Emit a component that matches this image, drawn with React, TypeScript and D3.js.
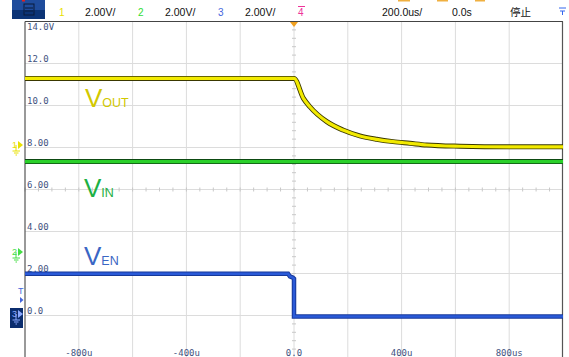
import { useMemo } from 'react'
import { scaleLinear, line, range, curveMonotoneX, curveLinear } from 'd3'

// time in us, volts
const voutTimes = [-1000, 0, 35, 59, 122, 182, 245, 307, 368, 431, 493, 617, 800, 1000]
const voutValues = [11.29, 11.29, 10.34, 9.94, 9.23, 8.83, 8.55, 8.39, 8.28, 8.2, 8.12, 8.06, 8.03, 8.03]
const vinTimes = [-1000, 1000]
const vinValues = [7.33, 7.33]
const venTimes = [-1000, -22, -15, -4, 0, 0, 1000]
const venValues = [1.99, 1.99, 1.86, 1.8, 1.75, -0.05, -0.05]

const yTickValues = [14, 12, 10, 8, 6, 4, 2, 0]
const yTickLabels = ['14.0V', '12.0', '10.0', '8.00', '6.00', '4.00', '2.00', '0.0']
const xTickValues = [-800, -400, 0, 400, 800]
const xTickLabels = ['-800u', '-400u', '0.0', '400u', '800us']

const W = 569
const H = 357
const mono = '"DejaVu Sans Mono", monospace'
const sans = '"Liberation Sans", Arial, sans-serif'

export default function App() {
  const x = useMemo(() => scaleLinear().domain([-1000, 1000]).range([25, 563]), [])
  const y = useMemo(() => scaleLinear().domain([-2, 14]).range([357.5, 21.5]), [])

  const path = (ts: number[], vs: number[], smooth = false) =>
    line<number>()
      .x((_, i) => x(ts[i]))
      .y((d) => y(d))
      .curve(smooth ? curveMonotoneX : curveLinear)(vs) ?? ''

  const vGrid = range(-800, 1000, 200)
  const hGrid = range(12, -2, -2)
  const xMinor = range(-1000, 1000, 50)
  const yMinor = range(-2, 14, 0.4)

  const marker = (cy: number, color: string, label: string) => (
    <g>
      <text x={12} y={cy + 3} fontSize={9} fontFamily={sans} fill={color}>{label}</text>
      <path d={`M18,${cy - 4}L23,${cy}L18,${cy + 4}Z`} fill={color} />
      <path d={`M16,${cy}V${cy + 6}M12.5,${cy + 6}H20M14,${cy + 8}H18.5M15.5,${cy + 10}H17`} stroke={color} strokeWidth={1} fill="none" />
    </g>
  )

  const vout = path(voutTimes, voutValues, true)
  const vin = path(vinTimes, vinValues)
  const ven = path(venTimes, venValues)

  return (
    <svg width={W} height={H} style={{ position: 'absolute', left: 0, top: 0, background: '#fff' }}>
      {/* header */}
      <rect x={12} y={0} width={33} height={10} fill="#1f4c9c" />
      <rect x={12} y={10} width={33} height={9} fill="#0c3476" />
      <rect x={24} y={4} width={10} height={11} fill="none" stroke="#0a1a3a" strokeWidth={1} />
      <path d="M25,8H33M25,11H33" stroke="#0a1a3a" strokeWidth={1} />
      <rect x={22} y={0} width={3} height={1.5} fill="#e02020" />
      <text x={59} y={16} fontSize={10} fontFamily={sans} fill="#e8e000">1</text>
      <text x={85} y={16} fontSize={10.5} fontFamily={sans} fill="#111">2.00V/</text>
      <text x={138} y={16} fontSize={10} fontFamily={sans} fill="#33dd33">2</text>
      <text x={165} y={16} fontSize={10.5} fontFamily={sans} fill="#111">2.00V/</text>
      <text x={218} y={16} fontSize={10} fontFamily={sans} fill="#4466dd">3</text>
      <text x={245} y={16} fontSize={10.5} fontFamily={sans} fill="#111">2.00V/</text>
      <text x={298} y={16} fontSize={10} fontFamily={sans} fill="#ee3399">4</text>
      <path d="M298,6.5H305" stroke="#ee3399" strokeWidth={1} />
      <text x={382} y={16} fontSize={10.5} fontFamily={sans} fill="#111">200.0us/</text>
      <text x={452} y={16} fontSize={10.5} fontFamily={sans} fill="#111">0.0s</text>
      <text x={510} y={16} fontSize={10.5} fontFamily='"Noto Sans CJK SC", sans-serif' fill="#111">停止</text>
      <path d="M559,8H566M560,11H565M562.5,11V15" stroke="#3366ee" strokeWidth={1} />
      <rect x={398} y={0} width={12} height={1.5} fill="#f0b040" />
      <rect x={437} y={0} width={11} height={1.5} fill="#f0b040" />
      <rect x={475} y={0} width={10} height={1.5} fill="#f0b040" />

      {/* grid */}
      {vGrid.map((t) => (
        <line key={'v' + t} x1={x(t)} x2={x(t)} y1={21.5} y2={H} stroke="#dcdcdc" strokeWidth={1} />
      ))}
      {hGrid.map((v) => (
        <line key={'h' + v} x1={25} x2={563} y1={y(v)} y2={y(v)} stroke="#dcdcdc" strokeWidth={1} />
      ))}
      {xMinor.map((t) => (
        <line key={'xm' + t} x1={x(t)} x2={x(t)} y1={y(6) - 2} y2={y(6) + 2} stroke="#c8c8c8" strokeWidth={1} />
      ))}
      {yMinor.map((v) => (
        <line key={'ym' + v} x1={x(0) - 2} x2={x(0) + 2} y1={y(v)} y2={y(v)} stroke="#c8c8c8" strokeWidth={1} />
      ))}
      {/* frame */}
      <line x1={25} x2={563} y1={21.5} y2={21.5} stroke="#444" strokeWidth={1} />
      <line x1={25} x2={25} y1={21.5} y2={H} stroke="#555" strokeWidth={1.2} />
      <line x1={562.5} x2={562.5} y1={21.5} y2={H} stroke="#555" strokeWidth={1.2} />

      {/* axis labels */}
      {yTickValues.map((v, i) => (
        <text
          key={'yl' + v}
          x={27}
          y={v === 14 ? y(v) + 8 : y(v) - 1.5}
          fontSize={9}
          fontFamily={mono}
          fill="#3f5280"
        >
          {yTickLabels[i]}
        </text>
      ))}
      {xTickValues.map((t, i) => (
        <text key={'xl' + t} x={x(t)} y={355.5} fontSize={9} fontFamily={mono} fill="#3f5280" textAnchor="middle">
          {xTickLabels[i]}
        </text>
      ))}

      {/* traces */}
      <path d={vout} fill="none" stroke="#3a3800" strokeWidth={5} />
      <path d={vout} fill="none" stroke="#f2ea00" strokeWidth={3.2} />
      <path d={vin} fill="none" stroke="#0d4a12" strokeWidth={5} />
      <path d={vin} fill="none" stroke="#2ad02a" strokeWidth={3.2} />
      <path d={ven} fill="none" stroke="#17399a" strokeWidth={4.5} />
      <path d={ven} fill="none" stroke="#2a5ad8" strokeWidth={2.5} />

      {/* trace names */}
      <text x={85} y={107} fontSize={26} fontFamily={sans} fill="#d2c800">
        V<tspan fontSize={12.5}>OUT</tspan>
      </text>
      <text x={84} y={197} fontSize={26} fontFamily={sans} fill="#1db043">
        V<tspan fontSize={12.5}>IN</tspan>
      </text>
      <text x={84} y={265} fontSize={26} fontFamily={sans} fill="#3a66c4">
        V<tspan fontSize={12.5}>EN</tspan>
      </text>

      {/* trigger marker */}
      <path d={`M${x(0) - 4},22L${x(0) + 4},22L${x(0)},27Z`} fill="#f0a020" />

      {/* channel markers */}
      {marker(145, '#e8e000', '1')}
      {marker(252, '#44dd44', '2')}
      <text x={18} y={294} fontSize={9} fontFamily={sans} fill="#4466dd">T</text>
      <path d="M20,297L23.5,300L20,303Z" fill="#4466dd" />
      <rect x={10} y={308} width={13} height={20} fill="#0b2d6e" />
      {marker(314, '#8aa8ff', '3')}
    </svg>
  )
}
